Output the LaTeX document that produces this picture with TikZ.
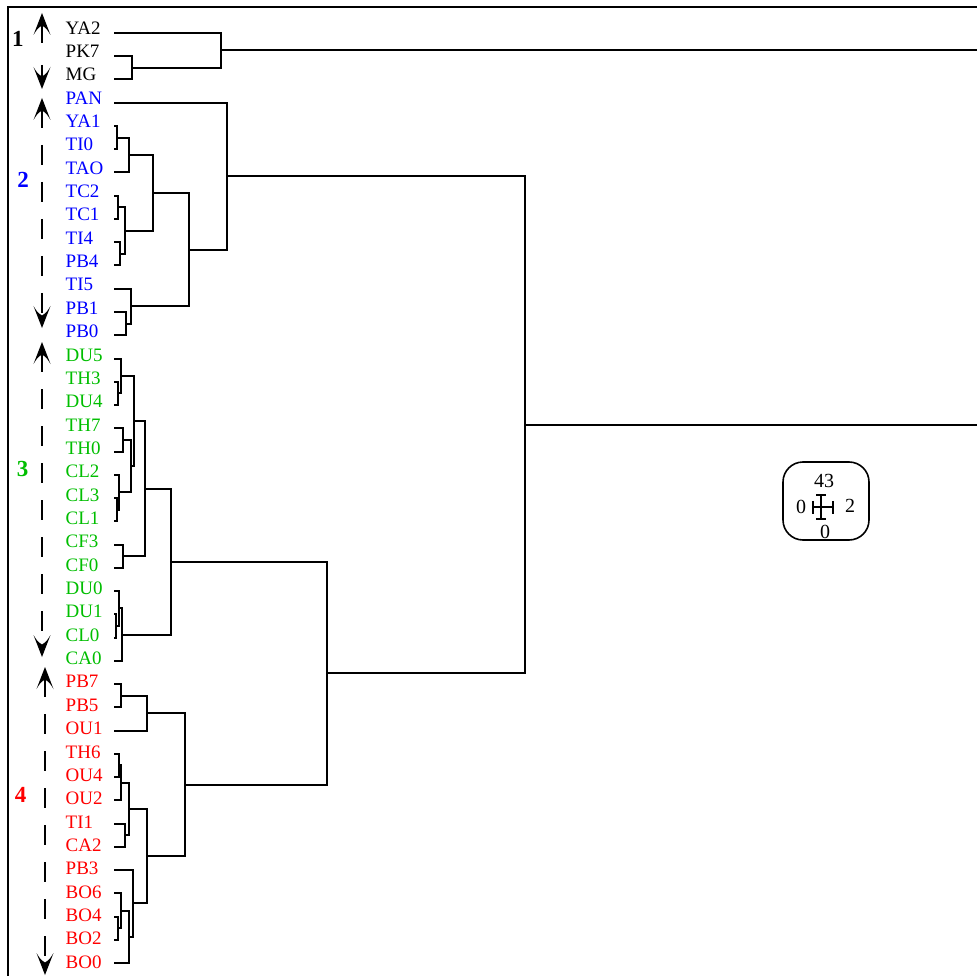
\documentclass[tikz,border=0pt]{standalone}
\usepackage{fontspec}
\setmainfont{Liberation Serif}
\usetikzlibrary{calc}
\definecolor{cblue}{RGB}{0,0,255}
\definecolor{cgreen}{RGB}{0,190,0}
\definecolor{cred}{RGB}{255,0,0}
\newcommand\dendjoin[4]{%
  \path let \p1=(#3),\p2=(#4) in (#2pt,{0.5*(\y1+\y2)}) coordinate (#1);
  \draw[tree] (#3) -| (#1) |- (#4);}
\begin{document}
\begin{tikzpicture}[x=1pt,y=-1pt,
  tree/.style={line width=2pt,black},
  leaf/.style={anchor=west,inner sep=0pt,font=\fontsize{19}{19}\selectfont},
  grp/.style={inner sep=0pt,font=\fontsize{23}{23}\selectfont\bfseries},
  shaft/.style={line width=1.8pt},
  dsh/.style={dash pattern=on 20pt off 17pt},
  headup/.pic={\fill (-8.5,22) .. controls (-3.5,9) .. (0,0) .. controls (3.5,9) .. (8.5,22)
     .. controls (4.5,15.5) .. (0,12.5) .. controls (-4.5,15.5) .. (-8.5,22) -- cycle;},
  legtxt/.style={inner sep=0pt,font=\fontsize{20}{20}\selectfont}]
\useasboundingbox (0,0) rectangle (977,976);
% frame
\coordinate (fbl) at (7.5,976);
\coordinate (ftl) at (7.5,7.5);
\coordinate (ftr) at (977,7.5);
\draw[line width=2pt] (fbl) -- (ftl) -- (ftr);
\coordinate (eR) at (977,0);
% leaves
\foreach \n [count=\i from 0] in {YA2,PK7,MG} {
  \coordinate (L\n) at (114,{33+23.25*\i});
  \node[leaf,text=black] (T\n) at (65.5,{28+23.35*\i}) {\n};}
\foreach \n [count=\i from 3] in {PAN,YA1,TI0,TAO,TC2,TC1,TI4,PB4,TI5,PB1,PB0} {
  \coordinate (L\n) at (114,{33+23.25*\i});
  \node[leaf,text=cblue] (T\n) at (65.5,{28+23.35*\i}) {\n};}
\foreach \n [count=\i from 14] in {DU5,TH3,DU4,TH7,TH0,CL2,CL3,CL1,CF3,CF0,DU0,DU1,CL0,CA0} {
  \coordinate (L\n) at (114,{33+23.25*\i});
  \node[leaf,text=cgreen] (T\n) at (65.5,{28+23.35*\i}) {\n};}
\foreach \n [count=\i from 28] in {PB7,PB5,OU1,TH6,OU4,OU2,TI1,CA2,PB3,BO6,BO4,BO2,BO0} {
  \coordinate (L\n) at (114,{33+23.25*\i});
  \node[leaf,text=cred] (T\n) at (65.5,{28+23.35*\i}) {\n};}
% cluster 1
\dendjoin{c1a}{132}{LPK7}{LMG}
\dendjoin{c1}{221}{LYA2}{c1a}
\draw[tree] (c1) -- (c1 -| eR);
% cluster 2
\dendjoin{a2}{116.5}{LYA1}{LTI0}
\dendjoin{b2}{129}{a2}{LTAO}
\dendjoin{c2}{118}{LTC2}{LTC1}
\dendjoin{d2}{120}{LTI4}{LPB4}
\dendjoin{e2}{125}{c2}{d2}
\dendjoin{f2}{153}{b2}{e2}
\dendjoin{g2}{126}{LPB1}{LPB0}
\dendjoin{h2}{131}{LTI5}{g2}
\dendjoin{i2}{189}{f2}{h2}
\dendjoin{j2}{227}{LPAN}{i2}
% cluster 3
\dendjoin{a3}{118}{LTH3}{LDU4}
\dendjoin{k3}{121}{LDU5}{a3}
\dendjoin{l3}{123}{LTH7}{LTH0}
\dendjoin{b3}{116.5}{LCL3}{LCL1}
\dendjoin{n3}{119}{LCL2}{b3}
\dendjoin{m3}{131}{l3}{n3}
\dendjoin{o3}{133.5}{k3}{m3}
\dendjoin{p3}{123}{LCF3}{LCF0}
\dendjoin{q3}{145}{o3}{p3}
\dendjoin{s3}{115.5}{LDU1}{LCL0}
\dendjoin{t3}{119}{LDU0}{s3}
\dendjoin{u3}{122}{t3}{LCA0}
\dendjoin{v3}{171}{q3}{u3}
% cluster 4
\dendjoin{w4}{121}{LPB7}{LPB5}
\dendjoin{x4}{147}{w4}{LOU1}
\dendjoin{a4}{119}{LTH6}{LOU4}
\dendjoin{y4}{121}{a4}{LOU2}
\dendjoin{b4}{125}{LTI1}{LCA2}
\dendjoin{z4}{129}{y4}{b4}
\dendjoin{c4}{118}{LBO4}{LBO2}
\dendjoin{d4}{121}{LBO6}{c4}
\dendjoin{e4}{129}{d4}{LBO0}
\dendjoin{f4}{133}{LPB3}{e4}
\dendjoin{g4}{147}{z4}{f4}
\dendjoin{h4}{185}{x4}{g4}
% upper joins
\dendjoin{r34}{327}{v3}{h4}
\dendjoin{root}{525}{j2}{r34}
\draw[tree] (root) -- (root -| eR);
% group labels
\node[grp] (g1) at (18,39) {1};
\node[grp,text=cblue] (g2) at (23,180) {2};
\node[grp,text=cgreen] (g3) at (22.5,469) {3};
\node[grp,text=cred] (g4) at (20.5,794.5) {4};
% group arrows
\coordinate (a1a) at (42,13);
\coordinate (a1b) at (42,43);
\coordinate (a1c) at (42,65);
\coordinate (a1d) at (42,89);
\draw[shaft] ($(a1a)+(0,10)$) -- (a1b);
\draw[shaft] (a1c) -- ($(a1d)+(0,-10)$);
\pic at (a1a) {headup};
\pic[yscale=-1] at (a1d) {headup};
\coordinate (a2a) at (42,98);
\coordinate (a2b) at (42,328);
\draw[shaft,dsh] ($(a2a)+(0,10)$) -- ($(a2b)+(0,-10)$);
\pic at (a2a) {headup};
\pic[yscale=-1] at (a2b) {headup};
\coordinate (a3a) at (42,342);
\coordinate (a3b) at (42,657);
\draw[shaft,dsh] ($(a3a)+(0,10)$) -- ($(a3b)+(0,-10)$);
\pic at (a3a) {headup};
\pic[yscale=-1] at (a3b) {headup};
\coordinate (a4a) at (45,667);
\coordinate (a4b) at (45,975);
\draw[shaft,dsh] ($(a4a)+(0,10)$) -- ($(a4b)+(0,-10)$);
\pic at (a4a) {headup};
\pic[yscale=-1] at (a4b) {headup};
% legend
\draw[line width=1.6pt,rounded corners=20pt] (783,462) rectangle (869,540);
\node[legtxt] (lt) at (824,481) {43};
\node[legtxt] (ll) at (801,507) {0};
\node[legtxt] (lr) at (850,506) {2};
\node[legtxt] (lb) at (825,532) {0};
\coordinate (hx1) at (813.3,507.3);
\coordinate (hx2) at (833.3,507.3);
\coordinate (vy1) at (821,495);
\coordinate (vy2) at (821,519);
\draw[line width=2pt] (hx1) -- (hx2);
\draw[line width=2pt] ($(hx1)+(0,-6.5)$) -- ($(hx1)+(0,6.5)$);
\draw[line width=2pt] ($(hx2)+(0,-6.5)$) -- ($(hx2)+(0,6.5)$);
\draw[line width=2pt] (vy1) -- (vy2);
\draw[line width=2pt] ($(vy1)+(-5,0)$) -- ($(vy1)+(5,0)$);
\draw[line width=2pt] ($(vy2)+(-5,0)$) -- ($(vy2)+(5,0)$);
\end{tikzpicture}
\end{document}
